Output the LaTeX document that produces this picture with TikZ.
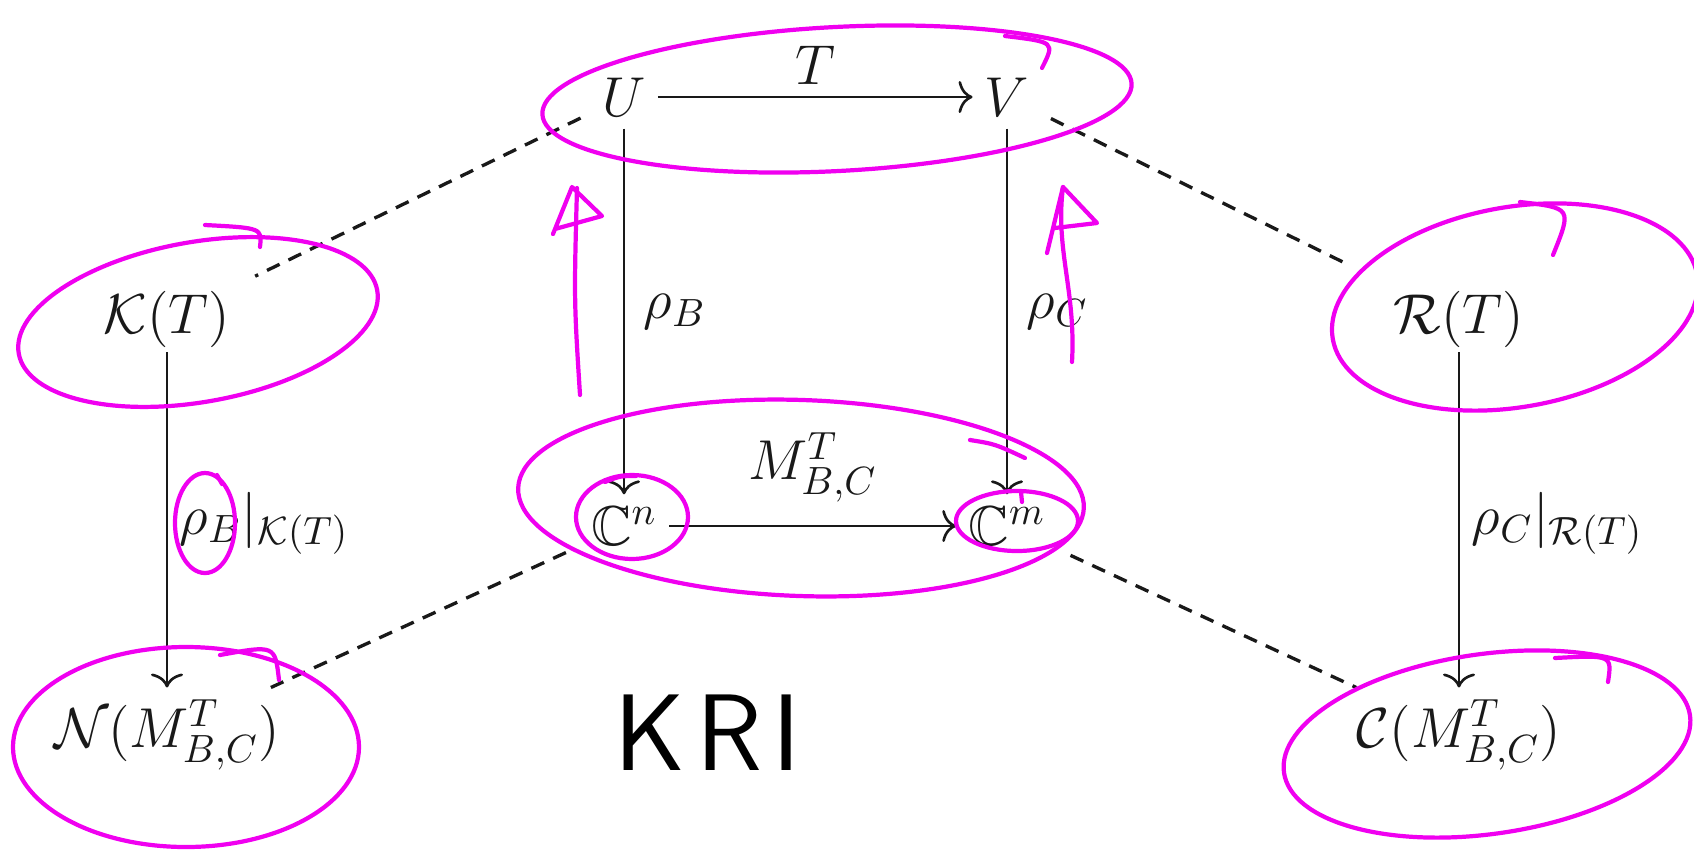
\RequirePackage{fix-cm}
\documentclass[tikz,border=0pt]{standalone}
\usepackage{amsmath,amssymb}
\usetikzlibrary{arrows.meta}
\definecolor{KriInk}{RGB}{240,0,240}
\definecolor{KriBlack}{RGB}{25,25,25}
\tikzset{
  kri/obj/.style={
    text=KriBlack,
    inner sep=3.3pt,
    font=\fontsize{16}{19}\selectfont
  },
  kri/label/.style={
    text=KriBlack,
    inner sep=3.3pt,
    font=\fontsize{16}{19}\selectfont
  },
  kri/map/.style={-{To[length=1.4mm,width=3.2mm]}, line width=0.75pt, draw=KriBlack},
  kri/link/.style={line width=0.95pt, draw=KriBlack, dash pattern=on 4pt off 2.8pt},
  kri/ink/.style={line width=1.2pt, draw=KriInk, line cap=round, line join=round},
  kri/hand/.style={font=\sffamily\fontsize{31}{36}\selectfont, text=black}
}

\begin{document}
\begin{tikzpicture}[x=1cm,y=1cm]
  \useasboundingbox (0,0) rectangle (16.94,-8.51);
  % the square
  \node[kri/obj] (U) at (6.24,-0.97) {$U$};
  \node[kri/obj] (V) at (10.07,-0.97) {$V$};
  \node[kri/obj] (Cn) at (6.24,-5.26) {$\mathbb{C}^n$};
  \node[kri/obj] (Cm) at (10.07,-5.26) {$\mathbb{C}^m$};
  % kernel and range
  \node[kri/obj] (K) at (1.67,-3.19) {$\mathcal{K}(T)$};
  \node[kri/obj] (N) at (1.67,-7.35) {$\mathcal{N}(M^T_{B,C})$};
  \node[kri/obj] (R) at (14.59,-3.19) {$\mathcal{R}(T)$};
  \node[kri/obj] (C) at (14.59,-7.35) {$\mathcal{C}(M^T_{B,C})$};
  \draw[kri/map] (U) -- node[kri/label, above] {$T$} (V);
  \draw[kri/map] (Cn) -- node[kri/label, above=3pt] {$M^T_{B,C}$} (Cm);
  \draw[kri/map] (U) -- node[kri/label, right=2pt] {$\rho_B$} (Cn);
  \draw[kri/map] (V) -- node[kri/label, right=2pt] {$\rho_C$} (Cm);
  \draw[kri/map, shorten <=-2pt] (K) -- node[kri/label, right] {$\rho_B|_{\mathcal{K}(T)}$} (N);
  \draw[kri/map, shorten <=-2pt] (R) -- node[kri/label, right] {$\rho_C|_{\mathcal{R}(T)}$} (C);
  \draw[kri/link, shorten <=3pt, shorten >=4pt] (U) -- (K);
  \draw[kri/link, shorten <=3pt, shorten >=10pt] (V) -- (R);
  \draw[kri/link, shorten <=4pt] (Cn) -- (N);
  \draw[kri/link, shorten <=4pt] (Cm) -- (C);
  \node[kri/hand] (kri) at (7.08,-7.33) {K\kern3pt R\kern3pt I};
  % pen marks
  \draw[kri/ink] (8.37,-0.99) ellipse [x radius=2.95, y radius=0.72, rotate=3];
  \draw[kri/ink] (10.05,-0.36) .. controls (10.55,-0.42) .. (10.42,-0.68);
  \draw[kri/ink] (8.01,-4.98) ellipse [x radius=2.83, y radius=0.98, rotate=-2];
  \draw[kri/ink] (9.70,-4.40) .. controls (9.95,-4.44) .. (10.25,-4.58);
  \draw[kri/ink] (6.32,-5.17) ellipse [x radius=0.56, y radius=0.42];
  \draw[kri/ink] (6.05,-4.82) .. controls (6.20,-4.76) .. (6.36,-4.76);
  \draw[kri/ink] (10.17,-5.21) ellipse [x radius=0.61, y radius=0.30];
  \draw[kri/ink] (10.21,-4.92) -- (10.22,-5.02);
  \draw[kri/ink] (2.05,-5.23) ellipse [x radius=0.30, y radius=0.50];
  \draw[kri/ink] (2.17,-4.75) -- (2.22,-4.84);
  \draw[kri/ink] (1.98,-3.22) ellipse [x radius=1.82, y radius=0.80, rotate=10];
  \draw[kri/ink] (2.05,-2.25) .. controls (2.62,-2.28) .. (2.60,-2.47);
  \draw[kri/ink] (15.15,-3.07) ellipse [x radius=1.85, y radius=1.00, rotate=10];
  \draw[kri/ink] (15.20,-2.02) .. controls (15.72,-2.08) .. (15.53,-2.55);
  \draw[kri/ink] (1.86,-7.47) ellipse [x radius=1.73, y radius=1.00];
  \draw[kri/ink] (2.20,-6.55) .. controls (2.75,-6.45) .. (2.79,-6.80);
  \draw[kri/ink] (14.87,-7.44) ellipse [x radius=2.05, y radius=0.90, rotate=8];
  \draw[kri/ink] (15.55,-6.58) .. controls (16.12,-6.55) .. (16.08,-6.82);
  \draw[kri/ink] (5.80,-3.95) .. controls (5.74,-3.00) .. (5.77,-1.88);
  \draw[kri/ink] (5.53,-2.34) -- (5.72,-1.87) -- (6.02,-2.16) -- (5.55,-2.29);
  \draw[kri/ink] (10.72,-3.62) .. controls (10.76,-2.90) and (10.55,-2.50) .. (10.63,-1.87);
  \draw[kri/ink] (10.47,-2.53) -- (10.63,-1.87) -- (10.97,-2.23) -- (10.55,-2.28);
\end{tikzpicture}
\end{document}
